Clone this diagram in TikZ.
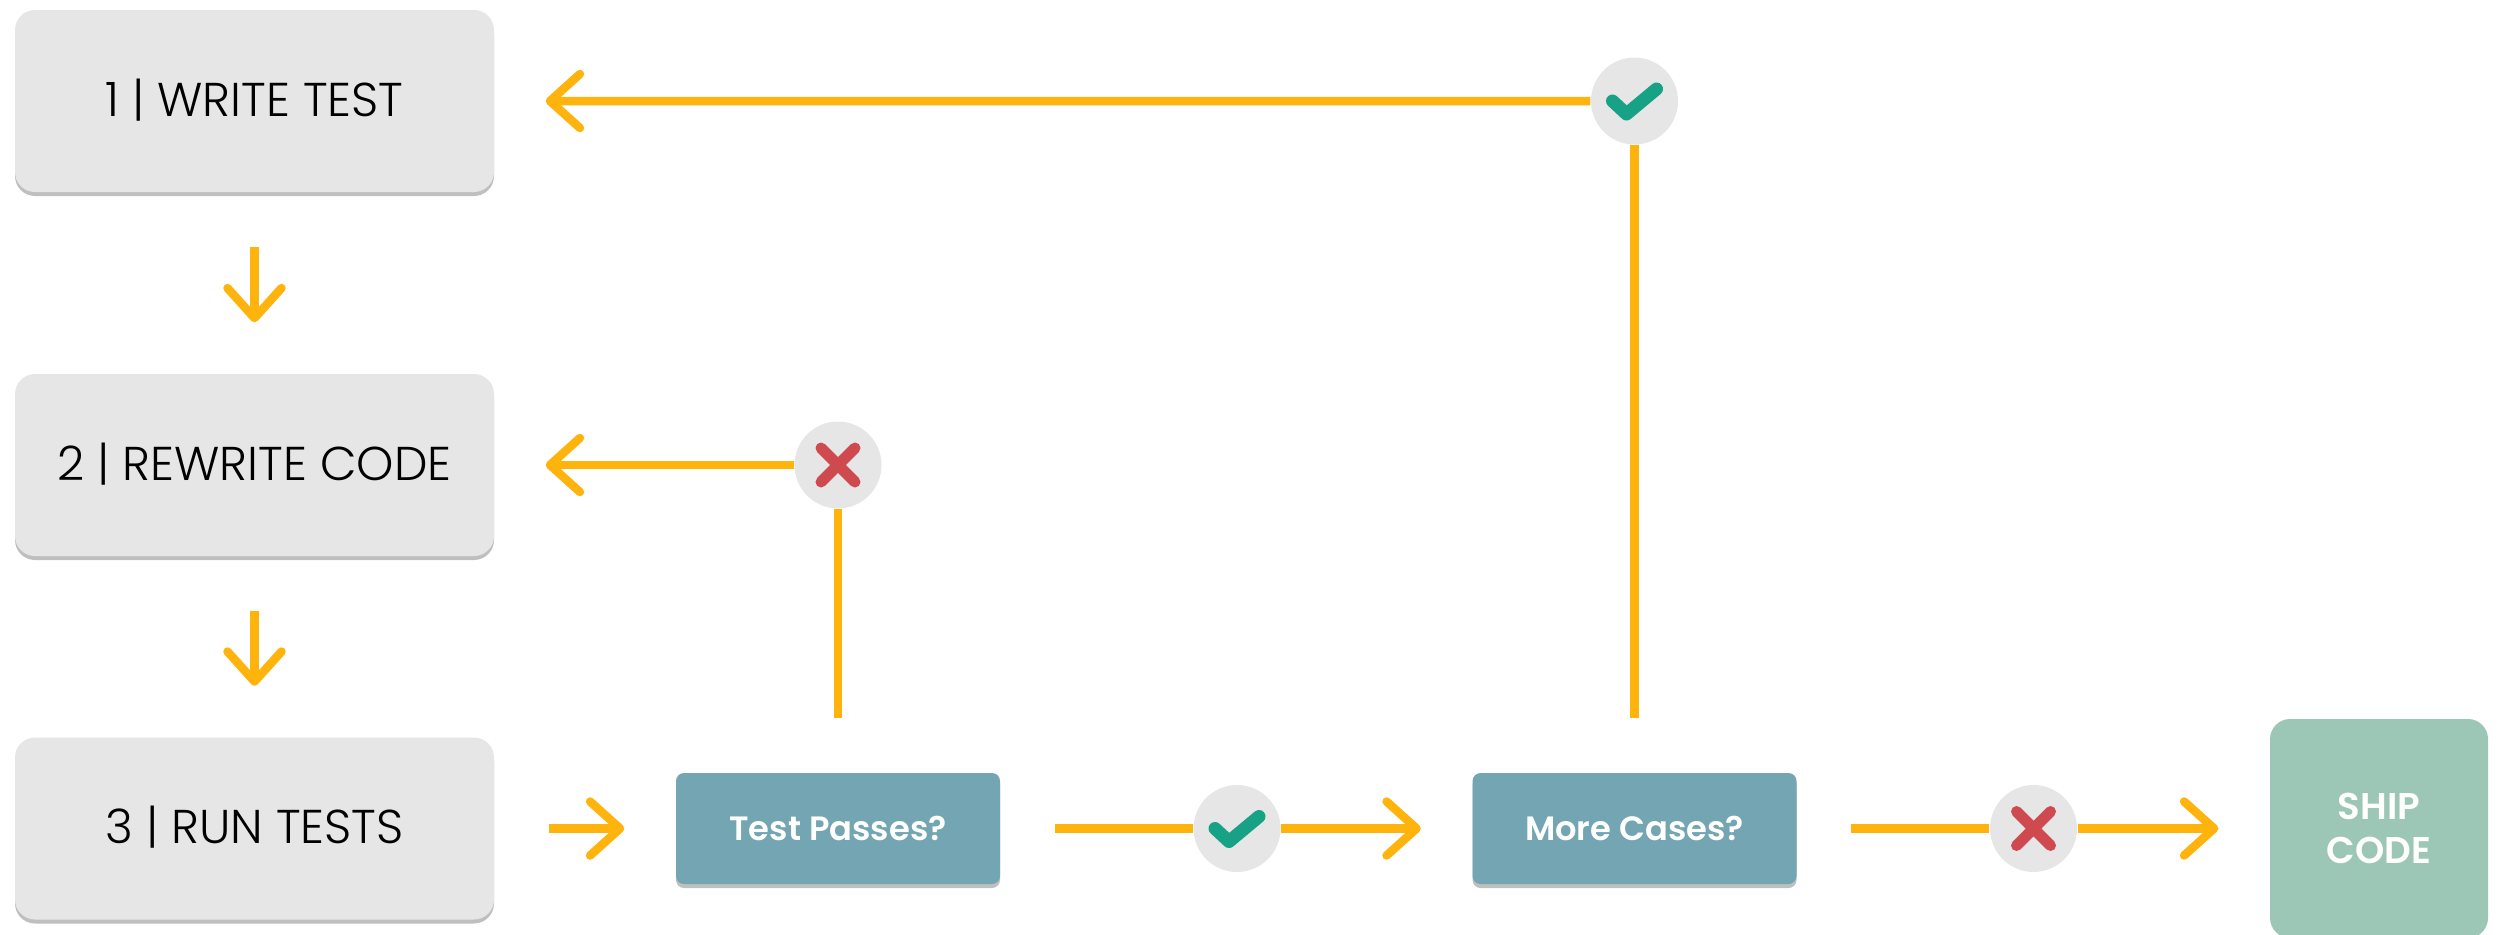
\documentclass[tikz,border=0pt]{standalone}
\usepackage{fontspec}
\setmainfont{Poppins}[UprightFont={* Light},BoldFont={* SemiBold}]
\usetikzlibrary{arrows.meta, shadows, positioning}
\definecolor{boxgray}{HTML}{E6E6E6}
\definecolor{teal}{HTML}{73A6B2}
\definecolor{mint}{HTML}{9CC7B6}
\definecolor{flowc}{HTML}{FFB30D}
\definecolor{yesc}{HTML}{17A185}
\definecolor{noc}{HTML}{CF4A4F}
\tikzset{
	lift/.style={drop shadow={shadow xshift=0pt, shadow yshift=-.04cm, fill=black, opacity=.25}},
	stepbox/.style={rectangle, fill=boxgray, rounded corners=.2cm, minimum width=4.79cm, minimum height=1.82cm, text height=.4cm, text depth=.1cm, font=\fontsize{13.5}{16}\selectfont, lift},
	askbox/.style={rectangle, fill=teal, rounded corners=.08cm, minimum width=3.24cm, minimum height=1.11cm, text=white, font=\fontsize{9.6}{12}\selectfont\bfseries, lift},
	shipbox/.style={rectangle, fill=mint, rounded corners=.2cm, minimum width=2.18cm, minimum height=2.19cm, text=white, align=center, font=\fontsize{10.6}{12.3}\selectfont\bfseries},
	badge/.style={circle, fill=boxgray, minimum size=.87cm, inner sep=0pt},
	flow/.style={draw=flowc, line width=.085cm, shorten >=.51cm, shorten <=.54cm},
	arrow/.style={flow, -{Straight Barb[length=.3cm, width=.54cm, round]}},
	yes/.style={draw=yesc, line width=.13cm, line cap=round, line join=round},
	no/.style={draw=noc, line width=.11cm, line cap=round},
}

\begin{document}
\begin{tikzpicture}[on grid, node distance=3.64cm]
	\useasboundingbox (0,0) rectangle (25.06,9.34);
	\node[stepbox] (write) at (2.545,8.33) {1 | WRITE TEST};
	\node[stepbox, below = of write] (rewrite) {2 | REWRITE CODE};
	\node[stepbox, below = 3.635cm of rewrite] (run) {3 | RUN TESTS};
	\node[askbox, right = 5.835cm of run] (test) {Test Passes?};
	\node[askbox, right = 7.965cm of test] (more) {More Cases?};
	\node[shipbox, right = 7.445cm of more] (ship) {SHIP\\CODE};

	\node[badge, above = 3.635cm of test] (nofix) {};
	\node[badge, above = 7.275cm of more] (yesnext) {};
	\node[badge, right = 3.99cm of test] (yespass) {};
	\node[badge, right = 3.99cm of more] (noship) {};

	\path[arrow] (write) edge (rewrite)
	(rewrite) edge (run)
	(run) edge (test)
	(nofix) edge[shorten <=0pt] (rewrite)
	(yesnext) edge[shorten <=0pt] (write)
	(yespass) edge[shorten <=0pt] (more)
	(noship) edge[shorten <=0pt] (ship);
	\path[flow] (test) edge[shorten >=0pt] (nofix)
	(more) edge[shorten >=0pt] (yesnext)
	(test) edge[shorten >=0pt] (yespass)
	(more) edge[shorten >=0pt] (noship);

	% icons in the round marks
	\foreach \m in {yesnext, yespass}
		\draw[yes] ([shift={(-.22,0)}]\m.center) -- ++(.14,-.13) -- ++(.3,.25);
	\foreach \m in {nofix, noship}
		\draw[no] ([shift={(-.17,.17)}]\m.center) -- ++(.34,-.34) ++(-.34,0) -- ++(.34,.34);
\end{tikzpicture}
\end{document}
